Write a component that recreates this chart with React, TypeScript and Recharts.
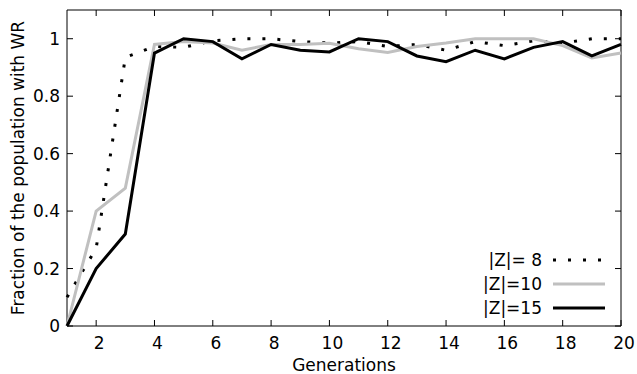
import React from 'react';
import { LineChart, Line, XAxis, YAxis, ReferenceArea, Legend } from 'recharts';

const generations = [1, 2, 3, 4, 5, 6, 7, 8, 9, 10, 11, 12, 13, 14, 15, 16, 17, 18, 19, 20];
const z8 = [0.10, 0.27, 0.935, 0.973, 0.97, 0.993, 1.0, 1.0, 0.99, 0.985, 0.99, 0.973, 0.98, 0.96, 0.99, 0.976, 0.993, 0.985, 1.0, 1.0];
const z10 = [0, 0.40, 0.48, 0.98, 0.99, 0.985, 0.96, 0.98, 0.98, 0.984, 0.965, 0.952, 0.973, 0.985, 1.0, 1.0, 1.0, 0.976, 0.933, 0.95];
const z15 = [0, 0.20, 0.32, 0.95, 1.0, 0.99, 0.93, 0.98, 0.96, 0.954, 1.0, 0.99, 0.94, 0.92, 0.96, 0.93, 0.97, 0.99, 0.94, 0.98];

const xTicks = [2, 4, 6, 8, 10, 12, 14, 16, 18, 20];
const yTicks = [0, 0.2, 0.4, 0.6, 0.8, 1];
const seriesNames = ['|Z|= 8', '|Z|=10', '|Z|=15'];

const data = generations.map((g, i) => ({ g, z8: z8[i], z10: z10[i], z15: z15[i] }));

const W = 637;
const H = 374;
const M = { top: 10, right: 16, left: 0, bottom: 0 };
const Y_W = 67;
const X_H = 48;
const PLOT_W = W - M.right - M.left - Y_W;
const PLOT_H = H - M.top - M.bottom - X_H;
const FONT = '"DejaVu Sans", Verdana, sans-serif';
const TICK = 6;

const YTick = (props: any) => {
  const { x, y, payload } = props;
  const ax = x + 7;
  return (
    <g>
      <line x1={ax} x2={ax + TICK} y1={y} y2={y} stroke="#000" strokeWidth={1} />
      <line x1={ax + PLOT_W} x2={ax + PLOT_W - TICK} y1={y} y2={y} stroke="#000" strokeWidth={1} />
      <text x={x} y={y} textAnchor="end" dominantBaseline="central" fontFamily={FONT} fontSize={17} fill="#000">
        {String(payload.value)}
      </text>
    </g>
  );
};

const XTick = (props: any) => {
  const { x, y, payload } = props;
  return (
    <g>
      <line x1={x} x2={x} y1={y} y2={y - TICK} stroke="#000" strokeWidth={1} />
      <line x1={x} x2={x} y1={y - PLOT_H} y2={y - PLOT_H + TICK} stroke="#000" strokeWidth={1} />
      <text x={x + 3} y={y + 17} textAnchor="middle" dominantBaseline="central" fontFamily={FONT} fontSize={17} fill="#000">
        {String(payload.value)}
      </text>
    </g>
  );
};

const YLabel = (props: any) => {
  const vb = props.viewBox || {};
  const cx = (vb.x || 0) + 18;
  const cy = (vb.y || 0) + (vb.height || 0) / 2;
  return (
    <text
      x={cx}
      y={cy}
      transform={`rotate(-90, ${cx}, ${cy})`}
      textAnchor="middle"
      dominantBaseline="central"
      fontFamily={FONT}
      fontSize={17}
      fill="#000"
    >
      Fraction of the population with WR
    </text>
  );
};

const LegendBox = (props: any) => {
  const payload = props.payload || [];
  return (
    <svg width={180} height={72} style={{ display: 'block' }}>
      {payload.map((p: any, i: number) => {
        const cy = 12 + 24 * i;
        return (
          <g key={i}>
            <text x={102} y={cy} textAnchor="end" dominantBaseline="central" fontFamily={FONT} fontSize={17} fill="#000" style={{ whiteSpace: 'pre' }}>
              {p.value}
            </text>
            <line
              x1={113}
              x2={165}
              y1={cy}
              y2={cy}
              stroke={p.color}
              strokeWidth={3}
              strokeDasharray={p.payload && p.payload.strokeDasharray ? p.payload.strokeDasharray : undefined}
            />
          </g>
        );
      })}
    </svg>
  );
};

export default function App() {
  return (
    <div style={{ position: 'absolute', left: 0, top: 0, width: W, height: H, background: '#fff' }}>
      <LineChart width={W} height={H} data={data} margin={M}>
        <XAxis
          dataKey="g"
          type="number"
          domain={[1, 20]}
          ticks={xTicks}
          interval={0}
          height={X_H}
          tickSize={0}
          tickMargin={0}
          axisLine={false}
          tickLine={false}
          tick={<XTick />}
          label={{ value: 'Generations', position: 'insideBottom', offset: 3, fontFamily: FONT, fontSize: 17, fill: '#000' }}
        />
        <YAxis
          type="number"
          domain={[0, 1.1]}
          ticks={yTicks}
          interval={0}
          width={Y_W}
          tickSize={0}
          tickMargin={7}
          axisLine={false}
          tickLine={false}
          tick={<YTick />}
          label={<YLabel />}
        />
        <ReferenceArea x1={1} x2={20} y1={0} y2={1.1} fill="none" stroke="#000" strokeWidth={1} fillOpacity={0} />
        <Line
          dataKey="z8"
          name={seriesNames[0]}
          stroke="#000"
          strokeWidth={3}
          strokeDasharray="3 12"
          dot={false}
          activeDot={false}
          isAnimationActive={false}
          strokeLinejoin="miter"
        />
        <Line
          dataKey="z10"
          name={seriesNames[1]}
          stroke="#c0c0c0"
          strokeWidth={3}
          dot={false}
          activeDot={false}
          isAnimationActive={false}
          strokeLinejoin="miter"
        />
        <Line
          dataKey="z15"
          name={seriesNames[2]}
          stroke="#000"
          strokeWidth={3}
          dot={false}
          activeDot={false}
          isAnimationActive={false}
          strokeLinejoin="miter"
        />
        <Legend
          layout="horizontal"
          align="center"
          verticalAlign="middle"
          content={<LegendBox />}
          wrapperStyle={{ position: 'absolute', left: 440, top: 248, width: 180, height: 72 }}
        />
      </LineChart>
    </div>
  );
}
